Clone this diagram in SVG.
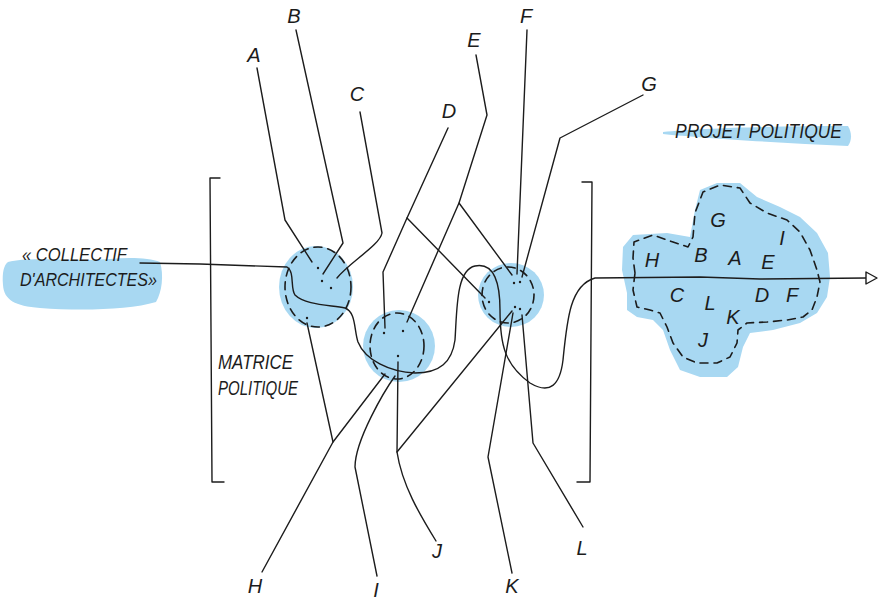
<svg xmlns="http://www.w3.org/2000/svg" width="878" height="600" viewBox="0 0 878 600">
<style>
.ln{fill:none;stroke:#1c1c1c;stroke-width:1.4;stroke-linecap:round;stroke-linejoin:round}
.blue{fill:#a8d8f2;stroke:none}
.dash{fill:none;stroke:#1c1c1c;stroke-width:1.6;stroke-dasharray:8 6;stroke-linecap:round}
.t{font-family:"Liberation Sans",Arial,sans-serif;font-style:italic;fill:#1c1c1c;font-size:19px}
.lab{font-family:"Liberation Sans",Arial,sans-serif;font-style:italic;fill:#1c1c1c;font-size:20px;text-anchor:middle}
.dot{fill:#1c1c1c}
</style>
<rect width="878" height="600" fill="#ffffff"/>

<g id="collectif">
<path class="blue" d="M8 262 C30 256 70 262 110 259 C130 257 150 258 160 262 C164 275 162 292 156 302 C130 310 80 311 40 308 C15 306 4 300 3 285 C2 272 4 265 8 262 Z"/>
<text class="t" x="22" y="261" textLength="105" lengthAdjust="spacingAndGlyphs">« COLLECTIF</text>
<text class="t" x="20" y="286" textLength="137" lengthAdjust="spacingAndGlyphs">D'ARCHITECTES»</text>
</g>

<g id="matrice">
<path class="ln" d="M220 178 L210 178 L211 330 L212 482 L224 482"/>
<path class="ln" d="M582 182 L592 182 L591 330 L590 482 L577 482"/>
<text class="t" x="218" y="369" textLength="75" lengthAdjust="spacingAndGlyphs" style="font-size:20px">MATRICE</text>
<text class="t" x="218" y="395" textLength="80" lengthAdjust="spacingAndGlyphs" style="font-size:20px">POLITIQUE</text>
</g>

<g id="projet-label">
<path class="blue" d="M663 132 C700 128 780 126 848 126 C852 133 852 140 848 146 C780 143 700 138 663 134 Z"/>
<text class="t" x="675" y="138" textLength="167" lengthAdjust="spacingAndGlyphs" style="font-size:21px">PROJET POLITIQUE</text>
</g>

<g id="node1">
<ellipse class="blue" cx="316" cy="287" rx="37" ry="41"/>
<ellipse class="dash" cx="318" cy="287" rx="33" ry="40"/>
</g>
<g id="node2">
<ellipse class="blue" cx="399" cy="346" rx="36" ry="36"/>
<ellipse class="dash" cx="397" cy="346" rx="27" ry="33"/>
</g>
<g id="node3">
<ellipse class="blue" cx="511" cy="295" rx="33" ry="32"/>
<ellipse class="dash" cx="508" cy="295" rx="26" ry="28"/>
</g>

<g id="projet">
<path class="blue" d="M623 247 L633 235 L667 233 L690 237 L695 210 L700 190 L717 183 L740 183 L757 197 L780 207 L800 217 L817 233 L828 253 L830 277 L827 297 L817 313 L800 323 L773 330 L750 333 L743 347 L738 367 L727 377 L700 377 L680 370 L670 350 L663 330 L653 320 L637 317 L627 310 L627 293 L622 270 Z" stroke="#a8d8f2" stroke-width="6" stroke-linejoin="round"/>
<path class="dash" d="M635 273 L633 258 L634 242 L653 235 L673 242 L688 247 L693 237 L695 213 L703 192 L720 185 L740 188 L750 203 L767 213 L787 220 L800 232 L810 250 L817 270 L820 282 L817 297 L812 310 L803 317 L787 320 L767 322 L747 323 L738 330 L737 343 L730 357 L717 363 L697 363 L683 357 L673 343 L667 327 L660 313 L650 310 L637 307 L633 290 Z" stroke-linejoin="round"/>
<text class="lab" x="718" y="227">G</text>
<text class="lab" x="782" y="245">I</text>
<text class="lab" x="652" y="267">H</text>
<text class="lab" x="701" y="262">B</text>
<text class="lab" x="735" y="265">A</text>
<text class="lab" x="768" y="269">E</text>
<text class="lab" x="677" y="302">C</text>
<text class="lab" x="710" y="310">L</text>
<text class="lab" x="762" y="302">D</text>
<text class="lab" x="792" y="302">F</text>
<text class="lab" x="733" y="324">K</text>
<text class="lab" x="703" y="347">J</text>
</g>

<g id="labels">
<text class="lab" x="254" y="62">A</text>
<text class="lab" x="294" y="23">B</text>
<text class="lab" x="357" y="101">C</text>
<text class="lab" x="449" y="118">D</text>
<text class="lab" x="474" y="47">E</text>
<text class="lab" x="526" y="23">F</text>
<text class="lab" x="649" y="91">G</text>
<text class="lab" x="255" y="593">H</text>
<text class="lab" x="376" y="597">I</text>
<text class="lab" x="437" y="558">J</text>
<text class="lab" x="512" y="593">K</text>
<text class="lab" x="582" y="555">L</text>
</g>

<g id="connectors">
<path class="ln" d="M140 263 L200 264 L287 267 C295 272 290 288 295 295 C305 305 330 305 345 308 C356 312 354 330 358 342 C365 360 390 372 415 373 C440 373 452 362 455 340 C457 310 456 270 475 266 C495 262 500 285 500 310 C500 345 505 365 530 383 C550 395 560 385 563 360 C567 320 570 285 595 278 L700 277 L760 279 L866 278"/>
<polygon points="866,272 877,278 866,284" fill="#ffffff" stroke="#1c1c1c" stroke-width="1.4" stroke-linejoin="round"/>
<path class="ln" d="M257 68 L285 220 L312 262"/>
<path class="ln" d="M296 30 L343 243 L323 274"/>
<path class="ln" d="M360 112 L382 233 C380 245 350 262 337 278"/>
<path class="ln" d="M448 128 L407 218 L383 272 L385 328"/>
<path class="ln" d="M407 218 L485 298"/>
<path class="ln" d="M476 55 L487 115 L459 203 L407 322"/>
<path class="ln" d="M459 203 L512 275"/>
<path class="ln" d="M527 30 L517 274"/>
<path class="ln" d="M643 95 L560 138 L522 277"/>
<path class="ln" d="M262 572 L333 442 L385 374"/>
<path class="ln" d="M333 442 L307 323"/>
<path class="ln" d="M377 576 L355 467 C355 440 385 390 395 376"/>
<path class="ln" d="M436 541 C420 515 402 485 397 452 L398 362"/>
<path class="ln" d="M397 452 L512 311"/>
<path class="ln" d="M512 573 L488 457 L513 313"/>
<path class="ln" d="M583 527 L533 443 L522 315"/>
<circle class="dot" cx="318" cy="268" r="1.2"/>
<circle class="dot" cx="322" cy="281" r="1.2"/>
<circle class="dot" cx="331" cy="288" r="1.2"/>
<circle class="dot" cx="307" cy="318" r="1.2"/>
<circle class="dot" cx="398" cy="356" r="1.2"/>
<circle class="dot" cx="403" cy="331" r="1.2"/>
<circle class="dot" cx="384" cy="333" r="1.2"/>
<circle class="dot" cx="514" cy="283" r="1.2"/>
<circle class="dot" cx="520" cy="282" r="1.2"/>
<circle class="dot" cx="489" cy="302" r="1.2"/>
<circle class="dot" cx="515" cy="307" r="1.2"/>
<circle class="dot" cx="520" cy="309" r="1.2"/>
</g>
</svg>
